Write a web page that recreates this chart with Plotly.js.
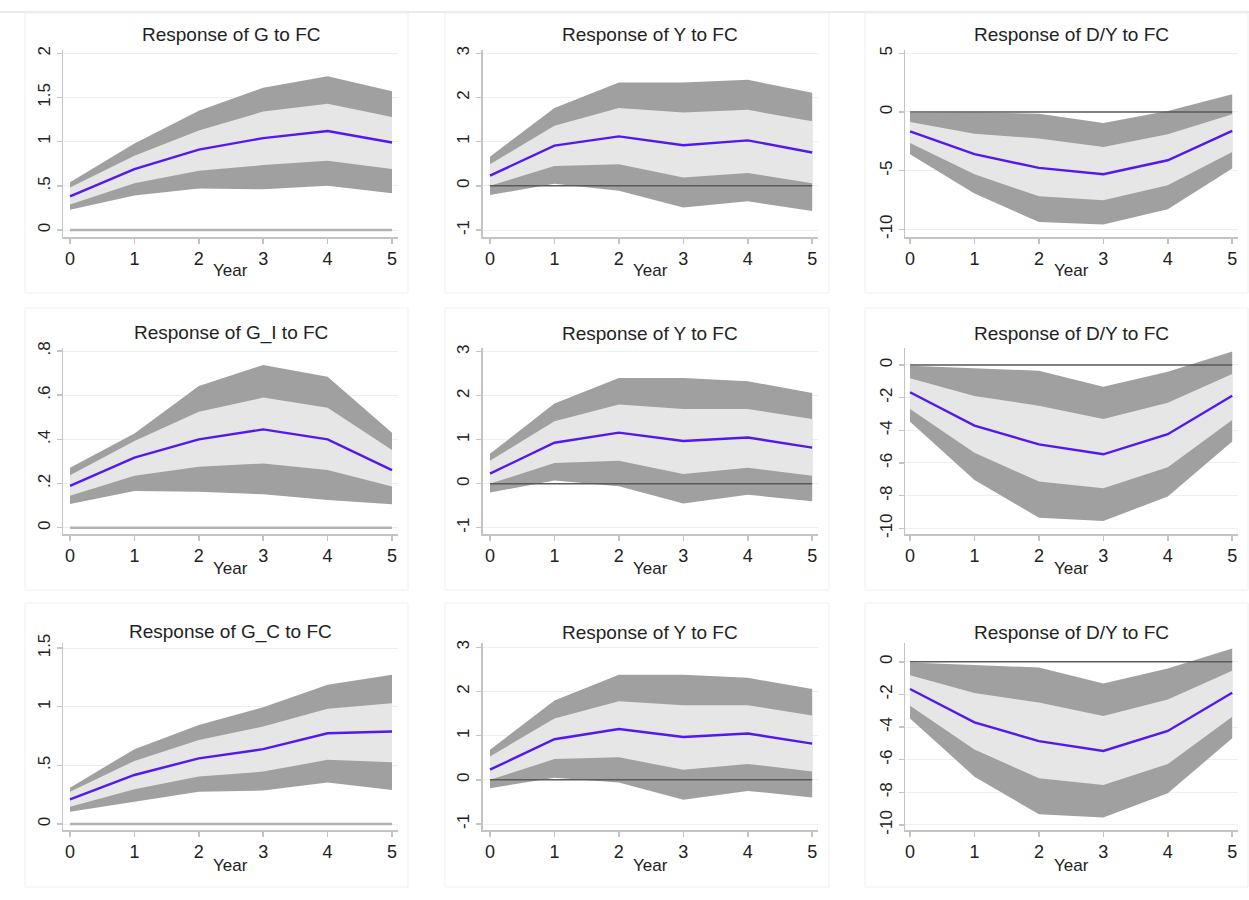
<!DOCTYPE html>
<html>
<head>
<meta charset="utf-8">
<script src="https://cdn.plot.ly/plotly-3.0.1.min.js"></script>
<style>html,body{margin:0;padding:0;background:#fff;}#chart{width:1249px;height:900px;}</style>
</head>
<body>
<div id="chart"></div>
<script>
// ---------- data ----------
const years = [0, 1, 2, 3, 4, 5];

// Row 1
const g_mean = [0.38, 0.69, 0.91, 1.04, 1.12, 0.99];
const g_hi90 = [0.54, 0.98, 1.35, 1.61, 1.74, 1.57];
const g_hi68 = [0.48, 0.84, 1.125, 1.34, 1.43, 1.28];
const g_lo68 = [0.29, 0.53, 0.67, 0.735, 0.785, 0.69];
const g_lo90 = [0.23, 0.39, 0.47, 0.46, 0.50, 0.415];

const y1_mean = [0.23, 0.91, 1.12, 0.92, 1.03, 0.755];
const y1_hi90 = [0.66, 1.76, 2.34, 2.34, 2.40, 2.11];
const y1_hi68 = [0.49, 1.36, 1.76, 1.66, 1.72, 1.46];
const y1_lo68 = [0.0, 0.45, 0.49, 0.19, 0.29, 0.06];
const y1_lo90 = [-0.21, 0.05, -0.11, -0.49, -0.35, -0.57];

const d1_mean = [-1.65, -3.6, -4.77, -5.31, -4.12, -1.62];
const d1_hi90 = [-0.1, -0.05, -0.15, -0.94, 0.08, 1.5];
const d1_hi68 = [-0.85, -1.85, -2.27, -2.98, -1.9, -0.2];
const d1_lo68 = [-2.64, -5.31, -7.19, -7.53, -6.25, -3.41];
const d1_lo90 = [-3.6, -6.96, -9.38, -9.6, -8.3, -4.83];

// Row 2
const gi_mean = [0.189, 0.317, 0.40, 0.445, 0.40, 0.261];
const gi_hi90 = [0.272, 0.427, 0.642, 0.737, 0.684, 0.43];
const gi_hi68 = [0.238, 0.392, 0.525, 0.589, 0.543, 0.352];
const gi_lo68 = [0.145, 0.235, 0.276, 0.291, 0.261, 0.186];
const gi_lo90 = [0.107, 0.166, 0.163, 0.151, 0.125, 0.106];

const y2_mean = [0.23, 0.93, 1.16, 0.97, 1.05, 0.82];
const y2_hi90 = [0.68, 1.82, 2.40, 2.40, 2.33, 2.06];
const y2_hi68 = [0.52, 1.42, 1.80, 1.70, 1.70, 1.47];
const y2_lo68 = [0.0, 0.47, 0.52, 0.22, 0.36, 0.18];
const y2_lo90 = [-0.2, 0.07, -0.06, -0.45, -0.25, -0.40];

const d2_mean = [-1.67, -3.71, -4.86, -5.47, -4.24, -1.88];
const d2_hi90 = [-0.05, -0.2, -0.35, -1.33, -0.41, 0.82];
const d2_hi68 = [-0.82, -1.9, -2.49, -3.31, -2.31, -0.55];
const d2_lo68 = [-2.69, -5.37, -7.14, -7.55, -6.27, -3.37];
const d2_lo90 = [-3.47, -7.04, -9.35, -9.55, -8.06, -4.69];

// Row 3
const gc_mean = [0.21, 0.418, 0.56, 0.638, 0.774, 0.788];
const gc_hi90 = [0.31, 0.638, 0.845, 0.996, 1.187, 1.272];
const gc_hi68 = [0.276, 0.538, 0.717, 0.831, 0.982, 1.03];
const gc_lo68 = [0.148, 0.296, 0.404, 0.447, 0.547, 0.527];
const gc_lo90 = [0.105, 0.19, 0.276, 0.285, 0.353, 0.29];

const y3_mean = [0.23, 0.92, 1.15, 0.97, 1.05, 0.82];
const y3_hi90 = [0.68, 1.80, 2.38, 2.38, 2.31, 2.06];
const y3_hi68 = [0.53, 1.39, 1.78, 1.69, 1.69, 1.46];
const y3_lo68 = [0.0, 0.47, 0.51, 0.23, 0.36, 0.19];
const y3_lo90 = [-0.19, 0.05, -0.06, -0.45, -0.25, -0.40];

const d3_mean = [-1.67, -3.71, -4.86, -5.47, -4.24, -1.9];
const d3_hi90 = [-0.05, -0.2, -0.35, -1.33, -0.41, 0.82];
const d3_hi68 = [-0.82, -1.92, -2.5, -3.33, -2.31, -0.55];
const d3_lo68 = [-2.69, -5.37, -7.14, -7.55, -6.27, -3.37];
const d3_lo90 = [-3.47, -7.04, -9.35, -9.55, -8.06, -4.69];

// Titles and tick labels
const titles = [
  "Response of G to FC", "Response of Y to FC", "Response of D/Y to FC",
  "Response of G_I to FC", "Response of Y to FC", "Response of D/Y to FC",
  "Response of G_C to FC", "Response of Y to FC", "Response of D/Y to FC"
];
const xTitle = "Year";
const tickY_G = [0, 0.5, 1, 1.5, 2];       const tickT_G = ["0", ".5", "1", "1.5", "2"];
const tickY_Y = [-1, 0, 1, 2, 3];          const tickT_Y = ["-1", "0", "1", "2", "3"];
const tickY_D1 = [-10, -5, 0, 5];          const tickT_D1 = ["-10", "-5", "0", "5"];
const tickY_GI = [0, 0.2, 0.4, 0.6, 0.8];  const tickT_GI = ["0", ".2", ".4", ".6", ".8"];
const tickY_D2 = [-10, -8, -6, -4, -2, 0]; const tickT_D2 = ["-10", "-8", "-6", "-4", "-2", "0"];
const tickY_GC = [0, 0.5, 1, 1.5];         const tickT_GC = ["0", ".5", "1", "1.5"];

// ---------- panel definitions ----------
const panels = [
  {m: g_mean,  h9: g_hi90,  h6: g_hi68,  l6: g_lo68,  l9: g_lo90,  tv: tickY_G,  tt: tickT_G,  yr: [-0.079, 2.037], zl: 'light'},
  {m: y1_mean, h9: y1_hi90, h6: y1_hi68, l6: y1_lo68, l9: y1_lo90, tv: tickY_Y,  tt: tickT_Y,  yr: [-1.158, 3.075], zl: 'dark'},
  {m: d1_mean, h9: d1_hi90, h6: d1_hi68, l6: d1_lo68, l9: d1_lo90, tv: tickY_D1, tt: tickT_D1, yr: [-10.66, 5.28], zl: 'dark'},
  {m: gi_mean, h9: gi_hi90, h6: gi_hi68, l6: gi_lo68, l9: gi_lo90, tv: tickY_GI, tt: tickT_GI, yr: [-0.0285, 0.8136], zl: 'light'},
  {m: y2_mean, h9: y2_hi90, h6: y2_hi68, l6: y2_lo68, l9: y2_lo90, tv: tickY_Y,  tt: tickT_Y,  yr: [-1.143, 3.084], zl: 'dark'},
  {m: d2_mean, h9: d2_hi90, h6: d2_hi68, l6: d2_lo68, l9: d2_lo90, tv: tickY_D2, tt: tickT_D2, yr: [-10.35, 1.04], zl: 'dark'},
  {m: gc_mean, h9: gc_hi90, h6: gc_hi68, l6: gc_lo68, l9: gc_lo90, tv: tickY_GC, tt: tickT_GC, yr: [-0.051, 1.543], zl: 'light'},
  {m: y3_mean, h9: y3_hi90, h6: y3_hi68, l6: y3_lo68, l9: y3_lo90, tv: tickY_Y,  tt: tickT_Y,  yr: [-1.136, 3.1], zl: 'dark'},
  {m: d3_mean, h9: d3_hi90, h6: d3_hi68, l6: d3_lo68, l9: d3_lo90, tv: tickY_D2, tt: tickT_D2, yr: [-10.31, 1.15], zl: 'dark'}
];

// ---------- layout geometry (pixels) ----------
const W = 1249, H = 900;
const colPx = [[63, 398], [482.7, 818], [905, 1238]];
const colXr = [[-0.109, 5.093], [-0.113, 5.09], [-0.078, 5.09]];
const rowPx = [[50, 237], [348, 534], [643, 830]];
const titleY = [35, 333, 632];
const yearY = [270, 568, 865];
const boxCol = [[25, 408], [445, 829], [865, 1248]];
const boxRow = [[13, 293], [308, 590], [603, 887]];

const FONT = "Liberation Sans, Arial, Helvetica, sans-serif";
const DARK = "#a0a0a0", LIGHT = "#e6e6e6", LINE = "#5218f0";
const rev = a => a.slice().reverse();
const band = (hi, lo) => hi.concat(rev(lo));
const xBand = years.concat(rev(years));

const data = [];
const layout = {
  width: W, height: H,
  margin: {l: 0, r: 0, t: 0, b: 0},
  paper_bgcolor: "#ffffff", plot_bgcolor: "#ffffff",
  showlegend: false,
  font: {family: FONT, color: "#222222"},
  annotations: [],
  shapes: [{
    type: "line", xref: "paper", yref: "paper", x0: 0, x1: 1,
    y0: 1 - 12 / H, y1: 1 - 12 / H, line: {color: "#e4e4e4", width: 1.5}, layer: "below"
  }]
};

panels.forEach((p, i) => {
  const r = Math.floor(i / 3), c = i % 3;
  const n = i + 1;
  const xa = "x" + (n === 1 ? "" : n), ya = "y" + (n === 1 ? "" : n);
  const xk = "xaxis" + (n === 1 ? "" : n), yk = "yaxis" + (n === 1 ? "" : n);

  data.push({x: xBand, y: band(p.h9, p.l9), xaxis: xa, yaxis: ya, type: "scatter", mode: "lines",
             fill: "toself", fillcolor: DARK, line: {width: 0, color: DARK}, hoverinfo: "skip"});
  data.push({x: xBand, y: band(p.h6, p.l6), xaxis: xa, yaxis: ya, type: "scatter", mode: "lines",
             fill: "toself", fillcolor: LIGHT, line: {width: 0, color: LIGHT}, hoverinfo: "skip"});
  data.push({x: years, y: p.m, xaxis: xa, yaxis: ya, type: "scatter", mode: "lines",
             line: {width: 2.4, color: LINE}});

  layout[xk] = {
    domain: [colPx[c][0] / W, colPx[c][1] / W],
    range: colXr[c], anchor: ya,
    tickvals: years, ticktext: years.map(String),
    showgrid: false, zeroline: false,
    showline: true, linecolor: "#c4c4c4", linewidth: 1.5,
    ticks: "outside", ticklen: 5, tickwidth: 1.5, tickcolor: "#c4c4c4",
    tickfont: {size: 18, color: "#222222", family: FONT}
  };
  layout[yk] = {
    domain: [1 - rowPx[r][1] / H, 1 - rowPx[r][0] / H],
    range: p.yr, anchor: xa,
    tickvals: p.tv, ticktext: p.tt, tickangle: -90,
    showgrid: true, gridcolor: "#eaf1f1", gridwidth: 1,
    zeroline: false,
    showline: true, linecolor: "#c4c4c4", linewidth: 1.5,
    ticks: "outside", ticklen: 5, tickwidth: 1.5, tickcolor: "#c4c4c4",
    tickfont: {size: 17, color: "#222222", family: FONT}
  };

  // zero reference line
  layout.shapes.push({
    type: "line", xref: xa, yref: ya,
    x0: years[0], x1: years[years.length - 1], y0: 0, y1: 0,
    line: p.zl === "light" ? {color: "#b2b2b2", width: 2.5} : {color: "#5a5a5a", width: 1.5},
    layer: "above"
  });

  // panel border
  layout.shapes.push({
    type: "rect", xref: "paper", yref: "paper",
    x0: boxCol[c][0] / W, x1: boxCol[c][1] / W,
    y0: 1 - boxRow[r][1] / H, y1: 1 - boxRow[r][0] / H,
    line: {color: "#f0f0f0", width: 1}, layer: "below"
  });

  const cx = (colPx[c][0] + colPx[c][1]) / 2 / W;
  layout.annotations.push({
    text: titles[i], xref: "paper", yref: "paper", x: cx, y: 1 - titleY[r] / H,
    xanchor: "center", yanchor: "middle", showarrow: false,
    font: {size: 19, color: "#222222", family: FONT}
  });
  layout.annotations.push({
    text: xTitle, xref: "paper", yref: "paper", x: cx, y: 1 - yearY[r] / H,
    xanchor: "center", yanchor: "middle", showarrow: false,
    font: {size: 17, color: "#222222", family: FONT}
  });
});

Plotly.newPlot("chart", data, layout, {staticPlot: true, displayModeBar: false});
</script>
</body>
</html>
